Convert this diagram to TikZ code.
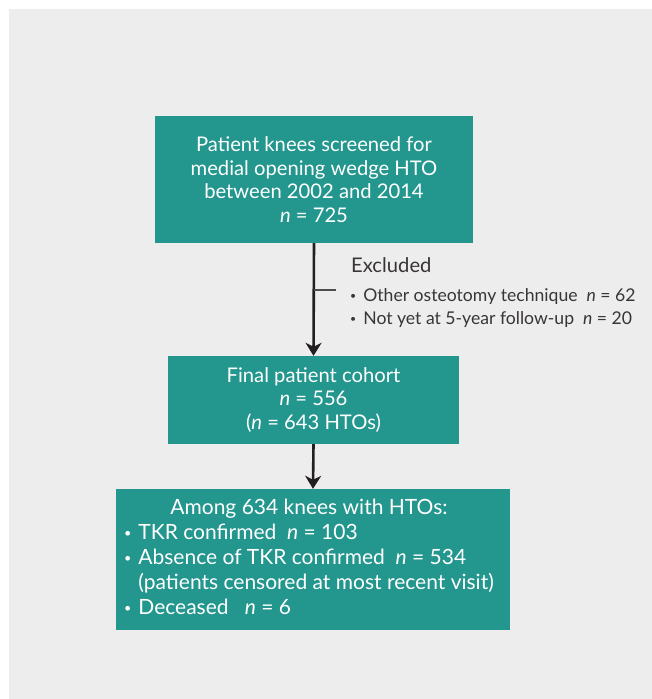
\documentclass[tikz,border=0pt]{standalone}
\usepackage{fontspec}
\setmainfont{Lato}
\usetikzlibrary{arrows.meta}

\definecolor{teal}{HTML}{23968E}
\definecolor{panel}{HTML}{EDEDED}
\definecolor{ink}{HTML}{231F20}

\tikzset{
	box/.style={fill=teal, text=white, align=center, inner sep=0pt},
	flow/.style={-{Stealth[length=13pt,width=16pt,inset=4pt]}, line width=2.6pt, draw=ink},
	txt/.style={text=ink!90, inner sep=0pt, anchor=west}
}
\newcommand{\dotitem}{\raisebox{2pt}{\scalebox{0.6}{\textbullet}}}

\begin{document}
\begin{tikzpicture}[x=1pt, y=-1pt, font=\fontsize{20.2}{23.7}\selectfont]

\useasboundingbox (0,0) rectangle (652,699);
\fill[panel] (9,9) rectangle (652,699);

\node[box, minimum width=318pt, minimum height=127pt] (screened) at (314,179.5)
	{Patient knees screened for\\ medial opening wedge HTO\\ between 2002 and 2014\\ \textit{n} = 725};
\node[box, minimum width=291pt, minimum height=88pt] (cohort) at (313.5,400)
	{Final patient cohort\\ \textit{n} = 556\\ (\textit{n} = 643 HTOs)};
\node[box, minimum width=394pt, minimum height=141pt, font=\fontsize{21}{23.7}\selectfont] (outcome) at (313,559.5)
	{\def\arraystretch{1.055}\begin{tabular}{@{}l@{\hspace{7pt}}l@{}}
	\multicolumn{2}{c}{Among 634 knees with HTOs:}\\
	\dotitem & TKR confirmed\ \ \textit{n} = 103\\
	\dotitem & Absence of TKR confirmed\ \ \textit{n} = 534\\
	 & (patients censored at most recent visit)\\
	\dotitem & Deceased\ \ \ \textit{n} = 6
	\end{tabular}\hspace{8pt}};

% exclusions
\coordinate (split) at (314,290);
\coordinate (branch) at (336,290);
\node[txt] (excluded) at (351,265) {Excluded};
\node[txt, font=\fontsize{17.6}{23}\selectfont] (reasons) at (350,308)
	{\begin{tabular}{@{}l@{\hspace{7pt}}l@{}}
	\dotitem & Other osteotomy technique\ \ \textit{n} = 62\\
	\dotitem & Not yet at 5-year follow-up\ \ \textit{n} = 20
	\end{tabular}};

\draw[flow] (screened.south) -- (cohort.north);
\draw[line width=1.8pt, draw=ink!80] (split) -- (branch);
\draw[flow] (cohort.south) -- (outcome.north);

\end{tikzpicture}
\end{document}
